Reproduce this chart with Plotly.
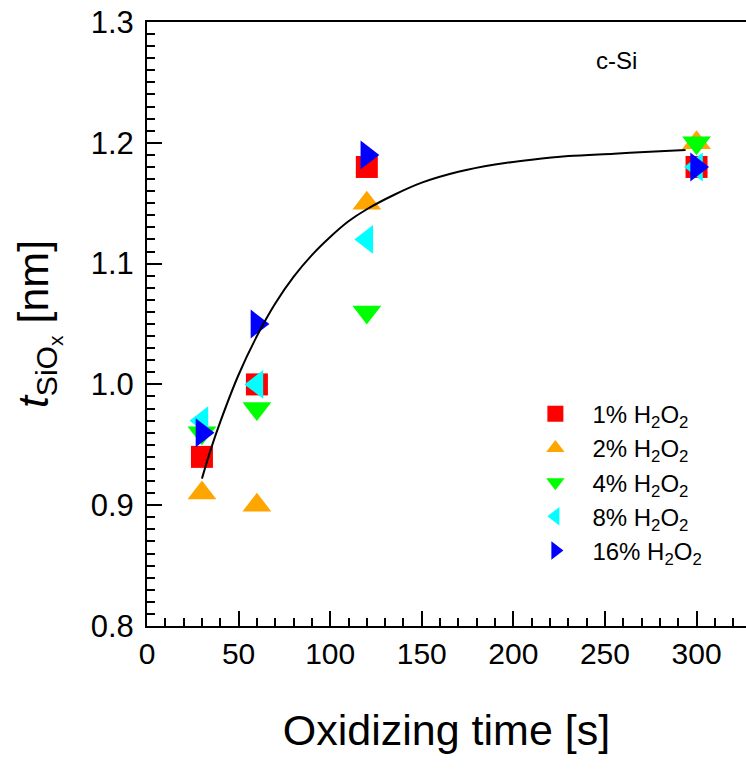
import plotly.graph_objects as go

# Oxidizing time [s]
times = [30, 60, 120, 300]

# t_SiOx [nm] per H2O2 concentration
h2o2_1 = [0.94, 1.00, 1.18, 1.18]
h2o2_2 = [0.91, 0.90, 1.15, 1.20]
h2o2_4 = [0.96, 0.98, 1.06, 1.20]
h2o2_8 = [0.97, 1.00, 1.12, 1.18]
h2o2_16 = [0.96, 1.05, 1.19, 1.18]

series_names = ["1% H<sub>2</sub>O<sub>2</sub>", "2% H<sub>2</sub>O<sub>2</sub>",
                "4% H<sub>2</sub>O<sub>2</sub>", "8% H<sub>2</sub>O<sub>2</sub>",
                "16% H<sub>2</sub>O<sub>2</sub>"]

# fitted curve
fit_x = [30, 35, 40, 50, 60, 70, 80, 90, 100, 110, 120, 135, 150, 170, 190, 210, 230, 255, 280, 294]
fit_y = [0.922, 0.947, 0.969, 1.008, 1.040, 1.067, 1.089, 1.107, 1.122, 1.135, 1.145, 1.157,
         1.167, 1.176, 1.182, 1.186, 1.189, 1.191, 1.193, 1.194]

series = [h2o2_1, h2o2_2, h2o2_4, h2o2_8, h2o2_16]
colors = ["#ff0000", "#ffa500", "#00ff00", "#00ffff", "#0000ff"]
symbols = ["square", "triangle-up", "triangle-down", "triangle-left", "triangle-right"]
sizes = [22, 25, 25, 25, 25]

FONT = "Liberation Sans, Arial, sans-serif"

fig = go.Figure()
for vals, name, c, s, sz in zip(series, series_names, colors, symbols, sizes):
    fig.add_trace(go.Scatter(x=times, y=vals, mode="markers", name=name,
                             marker=dict(symbol=s, color=c, size=sz, line=dict(width=0))))

fig.add_trace(go.Scatter(x=fit_x, y=fit_y, mode="lines", line=dict(color="black", width=2, shape="spline"),
                         showlegend=False, hoverinfo="skip"))

fig.add_annotation(text="c-Si", xref="paper", yref="paper", x=0.783, y=0.937,
                   xanchor="center", yanchor="middle",
                   showarrow=False, font=dict(size=24, color="black", family=FONT))

fig.update_layout(
    width=746, height=774,
    margin=dict(l=147, r=0, t=22, b=148),
    paper_bgcolor="white", plot_bgcolor="white",
    font=dict(family=FONT, color="black"),
    showlegend=True,
    legend=dict(x=0.620, y=0.388, xanchor="left", yanchor="top",
                font=dict(size=24, family=FONT, color="black"),
                bgcolor="rgba(0,0,0,0)", itemwidth=64, tracegroupgap=0),
    xaxis=dict(range=[0, 327], tick0=0, dtick=50, ticks="inside", ticklen=15, tickwidth=2,
               tickcolor="black",
               minor=dict(dtick=10, ticks="inside", ticklen=8, tickwidth=1.5, tickcolor="black"),
               showline=True, linewidth=2, linecolor="black", mirror=True,
               showgrid=False, zeroline=False, tickfont=dict(size=30, family=FONT),
               ticklabelstandoff=0, ticklabeloverflow="allow", automargin=False,
               title=dict(text="Oxidizing time [s]", font=dict(size=43, family=FONT), standoff=46)),
    yaxis=dict(range=[0.8, 1.3], tick0=0.8, dtick=0.1, tickformat=".1f", ticks="inside",
               ticklen=15, tickwidth=2, tickcolor="black",
               minor=dict(dtick=0.01, ticks="inside", ticklen=8, tickwidth=1.5, tickcolor="black"),
               showline=True, linewidth=2, linecolor="black", mirror=False,
               showgrid=False, zeroline=False, tickfont=dict(size=31, family=FONT),
               ticklabelstandoff=5, ticklabeloverflow="allow", automargin=False,
               title=dict(text="<i>t</i><sub>SiO<sub>x</sub></sub> [nm]", font=dict(size=43, family=FONT),
                          standoff=29)),
)

fig.write_html("out.html", config={"displayModeBar": False},
               post_script="document.body.style.margin='0';")
